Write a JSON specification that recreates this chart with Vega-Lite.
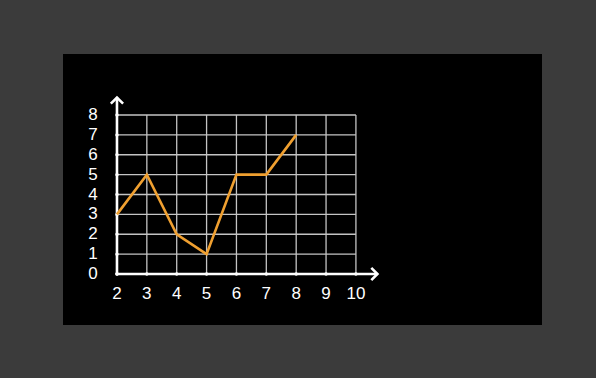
{
  "$schema": "https://vega.github.io/schema/vega-lite/v6.json",
  "width": 479,
  "height": 271,
  "autosize": {"type": "none"},
  "padding": {"left": 63, "top": 54, "right": 54, "bottom": 53},
  "background": "#3b3b3b",
  "config": {"view": {"fill": "#000000", "stroke": null}},
  "datasets": {
    "series": [
      {"x": 2, "y": 3}, {"x": 3, "y": 5}, {"x": 4, "y": 2}, {"x": 5, "y": 1},
      {"x": 6, "y": 5}, {"x": 7, "y": 5}, {"x": 8, "y": 7}
    ],
    "xticks": [
      {"v": 2, "label": "2"}, {"v": 3, "label": "3"}, {"v": 4, "label": "4"}, {"v": 5, "label": "5"},
      {"v": 6, "label": "6"}, {"v": 7, "label": "7"}, {"v": 8, "label": "8"}, {"v": 9, "label": "9"}, {"v": 10, "label": "10"}
    ],
    "yticks": [
      {"v": 0, "label": "0"}, {"v": 1, "label": "1"}, {"v": 2, "label": "2"}, {"v": 3, "label": "3"},
      {"v": 4, "label": "4"}, {"v": 5, "label": "5"}, {"v": 6, "label": "6"}, {"v": 7, "label": "7"}, {"v": 8, "label": "8"}
    ]
  },
  "layer": [
    {
      "data": {"name": "xticks"},
      "transform": [{"filter": "datum.v > 2"}],
      "mark": {"type": "rule", "color": "#c4c4c4", "strokeWidth": 1.3},
      "encoding": {
        "x": {"field": "v", "type": "quantitative", "scale": {"domain": [0.193, 16.23], "nice": false, "zero": false}, "axis": null},
        "y": {"datum": 0, "type": "quantitative", "scale": {"domain": [-2.566, 11.07], "nice": false, "zero": false}, "axis": null},
        "y2": {"datum": 8}
      }
    },
    {
      "data": {"name": "yticks"},
      "transform": [{"filter": "datum.v > 0"}],
      "mark": {"type": "rule", "color": "#c4c4c4", "strokeWidth": 1.3},
      "encoding": {
        "y": {"field": "v", "type": "quantitative"},
        "x": {"datum": 2, "type": "quantitative"},
        "x2": {"datum": 10}
      }
    },
    {
      "data": {"values": [{"a": 1}]},
      "mark": {"type": "rule", "color": "#ffffff", "strokeWidth": 2.6},
      "encoding": {
        "y": {"datum": 0, "type": "quantitative"},
        "x": {"datum": 2, "type": "quantitative"},
        "x2": {"datum": 10.72}
      }
    },
    {
      "data": {"values": [{"a": 1}]},
      "mark": {"type": "rule", "color": "#ffffff", "strokeWidth": 2.6},
      "encoding": {
        "x": {"datum": 2, "type": "quantitative"},
        "y": {"datum": 0},
        "y2": {"datum": 8.88}
      }
    },
    {
      "data": {"name": "xticks"},
      "mark": {"type": "point", "filled": true, "color": "#ffffff", "size": 12, "opacity": 1},
      "encoding": {
        "x": {"field": "v", "type": "quantitative"},
        "y": {"datum": 0, "type": "quantitative"}
      }
    },
    {
      "data": {"name": "yticks"},
      "mark": {"type": "point", "filled": true, "color": "#ffffff", "size": 12, "opacity": 1},
      "encoding": {
        "y": {"field": "v", "type": "quantitative"},
        "x": {"datum": 2, "type": "quantitative"}
      }
    },
    {
      "data": {"name": "series"},
      "mark": {"type": "line", "color": "#f0a030", "strokeWidth": 2.6, "strokeJoin": "miter"},
      "encoding": {
        "x": {"field": "x", "type": "quantitative"},
        "y": {"field": "y", "type": "quantitative"}
      }
    },
    {
      "data": {"values": [{"a": 1}]},
      "mark": {"type": "point", "shape": "M-1,-1L0,0L-1,1", "filled": false, "color": "#ffffff", "strokeWidth": 2.6, "size": 150, "opacity": 1},
      "encoding": {
        "x": {"datum": 10.72, "type": "quantitative"},
        "y": {"datum": 0, "type": "quantitative"}
      }
    },
    {
      "data": {"values": [{"a": 1}]},
      "mark": {"type": "point", "shape": "M-1,1L0,0L1,1", "filled": false, "color": "#ffffff", "strokeWidth": 2.6, "size": 150, "opacity": 1},
      "encoding": {
        "x": {"datum": 2, "type": "quantitative"},
        "y": {"datum": 8.88, "type": "quantitative"}
      }
    },
    {
      "data": {"name": "xticks"},
      "mark": {"type": "text", "color": "#ffffff", "font": "Liberation Sans", "fontSize": 17, "align": "center", "baseline": "middle"},
      "encoding": {
        "x": {"field": "v", "type": "quantitative"},
        "y": {"datum": -1.03, "type": "quantitative"},
        "text": {"field": "label"}
      }
    },
    {
      "data": {"name": "yticks"},
      "mark": {"type": "text", "color": "#ffffff", "font": "Liberation Sans", "fontSize": 17, "align": "center", "baseline": "middle"},
      "encoding": {
        "y": {"field": "v", "type": "quantitative"},
        "x": {"datum": 1.2, "type": "quantitative"},
        "text": {"field": "label"}
      }
    }
  ]
}
